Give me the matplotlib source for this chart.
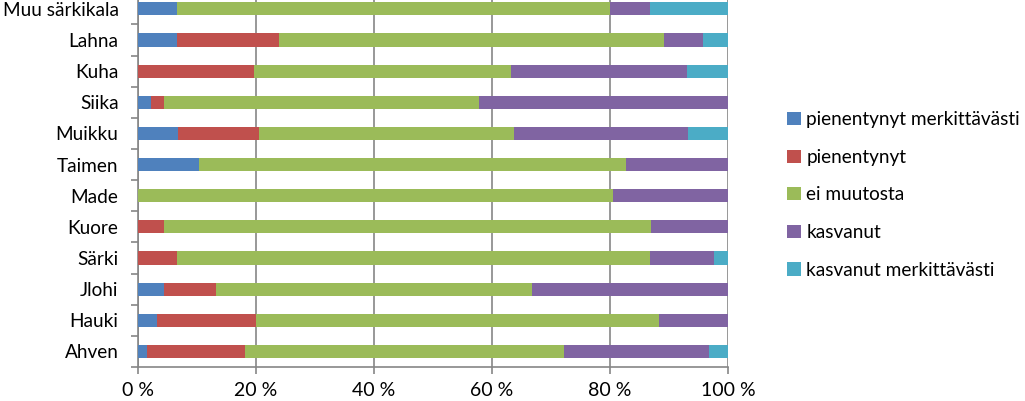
import matplotlib
matplotlib.use("Agg")
import matplotlib.pyplot as plt
import numpy as np

categories = ["Ahven", "Hauki", "Jlohi", "Särki", "Kuore", "Made", "Taimen",
              "Muikku", "Siika", "Kuha", "Lahna", "Muu särkikala"]
series_names = ["pienentynyt merkittävästi", "pienentynyt", "ei muutosta",
                "kasvanut", "kasvanut merkittävästi"]
pien_merk = [1.6, 3.3, 4.4, 0.0, 0.0, 0.0, 10.3, 6.7, 2.2, 0.0, 6.6, 6.6]
pien = [16.5, 16.7, 8.9, 6.6, 4.4, 0.0, 0.0, 13.8, 2.2, 19.6, 17.3, 0.0]
ei_muutosta = [54.1, 68.3, 53.4, 80.1, 82.5, 80.5, 72.4, 43.2, 53.4, 43.7, 65.2, 73.4]
kasvanut = [24.5, 11.7, 33.3, 11.0, 13.1, 19.5, 17.3, 29.5, 42.2, 29.7, 6.6, 6.7]
kasv_merk = [3.3, 0.0, 0.0, 2.3, 0.0, 0.0, 0.0, 6.8, 0.0, 7.0, 4.3, 13.3]
xticks = [0, 20, 40, 60, 80, 100]
xticklabels = ["0 %", "20 %", "40 %", "60 %", "80 %", "100 %"]

colors = ["#4F81BD", "#C0504D", "#9BBB59", "#8064A2", "#4BACC6"]
series = [pien_merk, pien, ei_muutosta, kasvanut, kasv_merk]

plt.rcParams['font.family'] = ['Lato', 'DejaVu Sans']
fig = plt.figure(figsize=(10.25, 4.01), dpi=100)
ax = fig.add_axes([138/1025, 34/401, 590/1025, (367+6.7)/401])

y = np.arange(len(categories))
left = np.zeros(len(categories))
handles = []
for name, vals, c in zip(series_names, series, colors):
    v = np.array(vals, dtype=float)
    h = ax.barh(y, v, left=left, height=0.42, color=c, label=name, zorder=3)
    handles.append(h)
    left += v

ax.set_xlim(0, 100)
ax.set_ylim(-0.5, len(categories) - 0.5)
ax.set_xticks(xticks)
ax.set_xticklabels(xticklabels, fontsize=14)
ax.set_yticks(y)
ax.set_yticklabels(categories, fontsize=13.7)
ax.set_yticks(np.arange(-0.5, len(categories) - 0.5 + 0.01, 1.0), minor=True)
ax.tick_params(axis='y', which='major', length=0, pad=14)
ax.tick_params(axis='y', which='minor', length=5, color="#868686", width=1.2, direction='out')
ax.tick_params(axis='x', length=5, color="#868686", width=1.2, direction='out', pad=6)
ax.grid(axis='x', color="#868686", linewidth=1.2, zorder=0)
for s in ['top', 'right']:
    ax.spines[s].set_visible(False)
for s in ['left', 'bottom']:
    ax.spines[s].set_color("#868686")
    ax.spines[s].set_linewidth(1.2)

fig.legend(handles=handles, labels=series_names, loc='upper left',
           bbox_to_anchor=(774/1025, 1 - 98/401), frameon=False, fontsize=13.7,
           handlelength=0.7, handleheight=0.7, handletextpad=0.3, labelspacing=1.08,
           borderpad=0.2)

fig.savefig("out.png", dpi=100)
